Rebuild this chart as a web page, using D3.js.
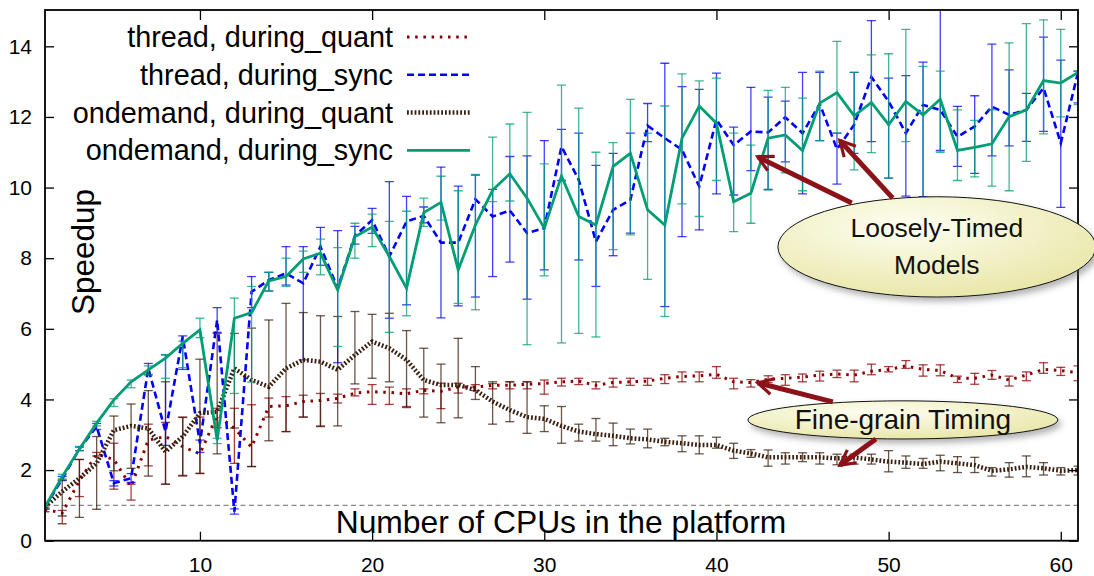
<!DOCTYPE html>
<html>
<head>
<meta charset="utf-8">
<script src="https://cdn.jsdelivr.net/npm/d3@7"></script>
<style>
  body { margin: 0; background: #fff; }
  text { font-family: "Liberation Sans", Arial, sans-serif; }
</style>
</head>
<body>
<svg id="chart" width="1094" height="576"></svg>
<script>
// number of CPUs (x axis)
const cpus = [1,2,3,4,5,6,7,8,9,10,11,12,13,14,15,16,17,18,19,20,21,22,23,24,25,26,27,28,29,30,
  31,32,33,34,35,36,37,38,39,40,41,42,43,44,45,46,47,48,49,50,51,52,53,54,55,56,57,58,59,60,61];

// thread, during_quant
const threadQuant = [0.89,0.78,1.7,2.45,2.3,1.53,2.85,2.95,2.66,2.46,3.56,3.18,2.65,3.8,3.82,3.94,3.97,4.03,4.18,4.22,
  4.2,4.16,4.26,4.23,4.35,4.35,4.4,4.4,4.43,4.45,4.5,4.52,4.4,4.48,4.5,4.52,4.6,4.65,4.67,4.71,
  4.5,4.48,4.57,4.6,4.63,4.69,4.72,4.69,4.8,4.85,4.95,4.85,4.82,4.6,4.6,4.69,4.55,4.69,4.85,4.82,4.76];
const threadQuantLo = [0.82,0.48,1.25,2.4,1.46,1.15,2.12,1.6,1.83,1.9,3.2,2.19,2.1,3.5,3.09,3.5,3.23,3.9,4.1,3.86,
  3.86,3.8,4.16,3.74,4.18,4.25,4.3,4.3,4.3,4.15,4.38,4.42,4.3,4.35,4.4,4.4,4.45,4.5,4.5,4.6,
  4.3,4.35,4.48,4.4,4.5,4.52,4.62,4.5,4.7,4.78,4.88,4.66,4.67,4.48,4.43,4.57,4.38,4.53,4.74,4.68,4.53];
const threadQuantHi = [0.95,0.86,2.3,2.5,2.76,1.6,3.3,3.35,3.49,3.5,3.75,3.75,3.85,4.04,4.08,4.12,4.17,4.15,4.3,4.42,
  4.35,4.3,4.3,4.46,4.46,4.42,4.45,4.5,4.5,4.55,4.6,4.6,4.5,4.6,4.6,4.6,4.7,4.78,4.78,4.93,
  4.6,4.56,4.67,4.7,4.72,4.8,4.83,4.83,5.0,4.93,5.1,4.98,4.98,4.66,4.74,4.82,4.66,4.78,5.04,4.91,4.95];

// thread, during_sync
const threadSync = [0.95,1.75,2.6,3.23,1.63,1.77,4.88,3.09,5.78,2.76,6.25,0.82,7.05,7.38,7.57,7.29,8.33,7.15,8.63,9.08,
  8.05,9.04,9.2,8.44,8.44,9.67,9.18,9.35,8.71,8.85,11.16,10.22,8.47,9.37,9.65,11.75,11.4,11.07,10.03,11.92,
  11.2,11.59,11.56,11.99,11.54,12.37,11.09,11.78,13.13,12.44,11.54,12.34,12.2,11.44,11.73,12.29,12.06,12.2,12.82,11.26,13.26];
const threadSyncLo = [0.9,1.7,2.55,3.15,1.55,1.65,4.7,2.7,4.85,2.5,5.9,0.75,6.6,7.07,7.24,5.12,7.8,5.04,8.4,8.7,
  6.3,6.68,9.0,6.31,6.65,6.9,7.48,7.89,6.84,7.67,10.2,7.95,7.2,8.07,8.71,11.3,6.63,8.61,8.8,9.82,
  9.79,10.48,9.95,10.73,9.82,11.33,10.1,10.97,11.3,10.27,9.76,9.74,11.05,10.6,10.4,10.9,11.18,11.31,11.59,9.44,12.4];
const threadSyncHi = [1.0,1.82,2.65,3.32,1.7,1.9,5.02,5.26,5.8,2.85,6.6,0.9,7.48,7.6,8.33,8.33,8.87,8.78,8.9,9.41,
  10.17,9.75,9.45,10.58,10.04,10.35,9.95,10.88,10.9,11.33,11.65,11.54,10.63,10.97,11.54,12.38,13.52,12.86,12.78,13.24,
  11.71,12.84,12.56,12.45,13.26,13.26,11.54,13.26,14.73,13.1,13.17,13.55,15.5,12.3,12.6,14.06,13.33,12.67,14.26,13.61,13.3];

// ondemand, during_quant
const ondemandQuant = [0.96,1.39,1.77,2.19,3.13,3.25,3.18,2.52,2.95,3.61,3.65,4.88,4.55,4.36,4.88,5.12,5.07,4.84,5.26,5.64,
  5.45,5.12,4.55,4.41,4.41,4.27,3.94,3.7,3.5,3.45,3.25,3.09,3.02,2.97,2.9,2.87,2.8,2.76,2.71,2.71,
  2.55,2.47,2.36,2.36,2.36,2.36,2.33,2.36,2.3,2.24,2.21,2.17,2.24,2.19,2.14,1.98,2.02,2.09,2.05,1.98,2.0];
const ondemandQuantLo = [0.9,0.7,0.66,0.89,1.98,2.05,1.83,1.6,1.85,1.91,2.46,3.19,2.1,2.83,3.09,3.5,3.25,3.25,4.44,4.6,
  4.5,3.77,3.5,3.34,3.48,4.0,3.3,3.37,3.04,3.09,2.76,2.82,2.82,2.69,2.74,2.63,2.69,2.52,2.46,2.62,
  2.33,2.36,2.11,2.17,2.24,2.17,2.15,2.17,2.17,1.95,2.05,2.05,1.98,1.93,1.93,1.83,1.8,1.81,1.86,1.86,1.86];
const ondemandQuantHi = [1.0,1.72,2.3,2.95,3.53,3.87,4.25,4.5,3.5,5.14,5.87,5.87,6.02,6.25,6.72,6.46,6.37,6.35,6.49,6.41,
  6.44,5.95,5.45,5.0,5.73,4.93,4.5,4.5,4.5,3.82,3.8,3.3,3.46,3.33,3.16,3.16,2.9,2.97,2.97,2.93,
  2.76,2.58,2.57,2.49,2.49,2.49,2.45,2.45,2.45,2.55,2.4,2.33,2.42,2.38,2.36,2.07,2.21,2.4,2.21,2.07,2.11];

// ondemand, during_sync
const ondemandSync = [0.96,1.81,2.6,3.33,3.99,4.5,4.84,5.17,5.59,5.97,2.85,6.3,6.46,7.36,7.48,7.98,8.14,7.1,8.61,8.88,
  8.05,7.15,9.29,9.58,7.67,8.94,9.93,10.39,9.7,8.85,10.33,9.18,8.94,10.6,10.97,9.37,8.94,11.4,12.31,11.82,
  9.6,9.84,11.4,11.49,11.05,12.39,12.69,12.03,12.41,11.78,12.44,12.06,12.5,11.05,11.14,11.24,12.01,12.2,13.03,12.96,13.26];
const ondemandSyncLo = [0.9,1.75,2.55,3.25,3.8,4.33,4.7,4.6,4.9,5.75,2.75,4.17,4.49,7.07,7.2,7.6,7.53,5.5,8.0,8.33,
  5.9,6.37,8.9,9.08,6.72,6.54,9.6,9.62,5.55,7.5,5.6,5.87,5.77,8.24,8.66,7.4,6.35,9.54,9.18,10.2,
  8.75,8.99,9.93,10.42,9.91,11.33,11.54,10.5,10.99,10.27,11.3,9.65,11.0,10.2,10.3,10.04,9.91,10.74,11.52,12.0,12.35];
const ondemandSyncHi = [1.0,1.88,2.67,3.38,4.02,4.55,4.95,5.27,5.65,6.3,2.9,6.87,7.2,7.6,8.0,8.2,8.54,8.3,8.99,9.25,
  9.04,9.33,9.7,10.32,9.91,10.37,11.43,11.8,12.13,10.67,12.9,12.25,11.0,11.27,12.5,11.54,12.31,13.22,13.02,13.1,
  11.54,11.2,12.75,12.84,12.53,13.3,14.14,13.26,13.76,13.79,14.48,13.43,13.3,12.2,11.9,12.2,14.1,14.64,14.75,14.48,13.3];

const yTicks = [0, 2, 4, 6, 8, 10, 12, 14];
const xTicks = [10, 20, 30, 40, 50, 60];

const series = [
  {name: 'thread, during_quant', vals: threadQuant, lo: threadQuantLo, hi: threadQuantHi,
   color: '#8b0000', width: 3, dash: '2.5,5.7'},
  {name: 'thread, during_sync', vals: threadSync, lo: threadSyncLo, hi: threadSyncHi,
   color: '#0000ff', width: 2.6, dash: '7,4'},
  {name: 'ondemand, during_quant', vals: ondemandQuant, lo: ondemandQuantLo, hi: ondemandQuantHi,
   color: '#3a1e0e', width: 4.5, dash: '1.8,2'},
  {name: 'ondemand, during_sync', vals: ondemandSync, lo: ondemandSyncLo, hi: ondemandSyncHi,
   color: '#009e73', width: 2.8, dash: null},
];

// annotations, in data units
const bubbles = [
  {lines: ['Loosely-Timed', 'Models'], cx: 52.8, cy: 8.32, rx: 9.23, ry: 1.42, size: 26.5,
   arrows: [[47.86, 9.56, 42.4, 10.87], [50.24, 9.7, 47.17, 11.33]]},
  {lines: ['Fine-grain Timing'], cx: 50.83, cy: 3.42, rx: 9.0, ry: 0.54, size: 28,
   arrows: [[46.76, 3.93, 42.4, 4.47], [49.26, 2.88, 47.17, 2.14]]},
];

const svg = d3.select('#chart');
const plotLeft = 45, plotRight = 1078, plotTop = 11, plotBottom = 540.7;

const x = d3.scaleLinear().domain([1, 61]).range([plotLeft, plotRight]);
const y = d3.scaleLinear().domain([0, 15]).range([plotBottom, plotTop]);

const defs = svg.append('defs');
defs.append('clipPath').attr('id', 'plot-clip')
  .append('rect').attr('x', plotLeft).attr('y', plotTop - 1)
  .attr('width', plotRight - plotLeft).attr('height', plotBottom - plotTop + 1);

const grad = defs.append('radialGradient').attr('id', 'bubble-fill')
  .attr('cx', '40%').attr('cy', '30%').attr('r', '75%');
grad.append('stop').attr('offset', '0%').attr('stop-color', '#fefef2');
grad.append('stop').attr('offset', '100%').attr('stop-color', '#e8e6a6');

const shadow = defs.append('filter').attr('id', 'shadow')
  .attr('x', '-10%').attr('y', '-20%').attr('width', '130%').attr('height', '160%');
shadow.append('feDropShadow').attr('dx', 3).attr('dy', 4).attr('stdDeviation', 3)
  .attr('flood-color', '#555').attr('flood-opacity', 0.45);

defs.append('marker').attr('id', 'arrow-head')
  .attr('viewBox', '0 0 10 10').attr('refX', 8.5).attr('refY', 5)
  .attr('markerWidth', 4).attr('markerHeight', 4).attr('orient', 'auto')
  .append('path').attr('d', 'M1,1 L8.5,5 L1,9')
  .attr('fill', 'none').attr('stroke', '#8b1218').attr('stroke-width', 1.6);

// baseline y = 1
svg.append('line')
  .attr('x1', plotLeft).attr('x2', plotRight)
  .attr('y1', y(1)).attr('y2', y(1))
  .attr('stroke', '#888').attr('stroke-width', 1.2).attr('stroke-dasharray', '5,3.5');

svg.append('text')
  .attr('x', 561).attr('y', 533)
  .attr('text-anchor', 'middle').attr('font-size', 31.8)
  .text('Number of CPUs in the platform');

svg.append('text')
  .attr('transform', `translate(94,252) rotate(-90)`)
  .attr('text-anchor', 'middle').attr('font-size', 31.5)
  .text('Speedup');

const plot = svg.append('g').attr('clip-path', 'url(#plot-clip)');

const line = (vals) => d3.line()
  .x((d, i) => x(cpus[i]))
  .y(d => y(d))(vals);

for (let s of series) {
  let g = plot.append('g');
  let bars = g.append('g')
    .attr('stroke', s.color).attr('stroke-width', 1.3).attr('stroke-opacity', 0.75);
  cpus.forEach((c, i) => {
    let px = x(c);
    bars.append('line').attr('x1', px).attr('x2', px).attr('y1', y(s.lo[i])).attr('y2', y(s.hi[i]));
    bars.append('line').attr('x1', px - 4.5).attr('x2', px + 4.5).attr('y1', y(s.lo[i])).attr('y2', y(s.lo[i]));
    bars.append('line').attr('x1', px - 4.5).attr('x2', px + 4.5).attr('y1', y(s.hi[i])).attr('y2', y(s.hi[i]));
  });
  g.append('path')
    .attr('d', line(s.vals))
    .attr('fill', 'none')
    .attr('stroke', s.color)
    .attr('stroke-width', s.width)
    .attr('stroke-dasharray', s.dash);
}

// frame and ticks
const axisG = svg.append('g');
axisG.append('g').attr('transform', `translate(${plotLeft},0)`)
  .call(d3.axisLeft(y).tickValues(yTicks).tickSize(-9).tickSizeOuter(0).tickPadding(13));
axisG.append('g').attr('transform', `translate(${plotRight},0)`)
  .call(d3.axisRight(y).tickValues(yTicks).tickSize(-9).tickSizeOuter(0).tickFormat(''));
axisG.append('g').attr('transform', `translate(0,${plotBottom})`)
  .call(d3.axisBottom(x).tickValues(xTicks).tickSize(-9).tickSizeOuter(0).tickPadding(16));
axisG.append('g').attr('transform', `translate(0,${plotTop})`)
  .call(d3.axisTop(x).tickValues(xTicks).tickSize(-9).tickSizeOuter(0).tickFormat(''));
axisG.selectAll('.domain').remove();
axisG.selectAll('.tick line').attr('stroke', '#000').attr('stroke-width', 1.3);
axisG.selectAll('.tick text')
  .attr('font-family', '"Liberation Sans", Arial, sans-serif')
  .attr('font-size', 21).attr('fill', '#000');

svg.append('rect')
  .attr('x', plotLeft).attr('y', plotTop - 1)
  .attr('width', plotRight - plotLeft).attr('height', plotBottom - plotTop + 1)
  .attr('fill', 'none').attr('stroke', '#000').attr('stroke-width', 1.8);

// legend
const legend = svg.append('g');
series.forEach((s, i) => {
  let cy = 37 + i * 37.8;
  legend.append('text')
    .attr('x', 393).attr('y', cy + 10)
    .attr('text-anchor', 'end').attr('font-size', 28.8)
    .text(s.name);
  legend.append('line')
    .attr('x1', 407).attr('x2', 470).attr('y1', cy).attr('y2', cy)
    .attr('stroke', s.color).attr('stroke-width', s.width)
    .attr('stroke-dasharray', s.dash);
});

// annotation bubbles
for (let b of bubbles) {
  let g = svg.append('g');
  g.append('ellipse')
    .attr('cx', x(b.cx)).attr('cy', y(b.cy))
    .attr('rx', x(b.cx + b.rx) - x(b.cx))
    .attr('ry', y(b.cy) - y(b.cy + b.ry))
    .attr('fill', 'url(#bubble-fill)')
    .attr('stroke', '#111').attr('stroke-width', 1)
    .attr('filter', 'url(#shadow)');
  let n = b.lines.length;
  b.lines.forEach((t, i) => {
    g.append('text')
      .attr('x', x(b.cx))
      .attr('y', y(b.cy) + 9 + (i - (n - 1) / 2) * 37)
      .attr('text-anchor', 'middle')
      .attr('font-family', 'Lato, "Open Sans", sans-serif')
      .attr('font-size', b.size)
      .attr('fill', '#111')
      .text(t);
  });
  for (let a of b.arrows) {
    g.append('line')
      .attr('x1', x(a[0])).attr('y1', y(a[1]))
      .attr('x2', x(a[2])).attr('y2', y(a[3]))
      .attr('stroke', '#8b1218').attr('stroke-width', 5)
      .attr('marker-end', 'url(#arrow-head)');
  }
}
</script>
</body>
</html>
